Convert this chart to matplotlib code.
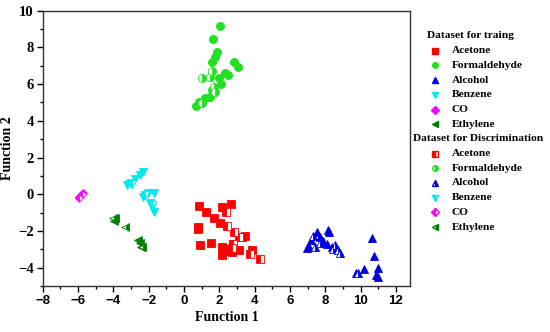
import matplotlib
matplotlib.use("Agg")
import matplotlib.pyplot as plt
from matplotlib.lines import Line2D

# ---- data: training set (filled) ----
acetone_x = [0.86, 1.24, 2.16, 2.67, 1.68, 2.03, 0.77, 0.77, 3.47, 3.26, 0.90, 1.51, 2.16, 2.56, 2.70, 3.13, 3.83, 2.13, 2.47]
acetone_y = [-0.63, -0.99, -0.72, -0.53, -1.31, -1.55, -1.80, -1.92, -2.26, -2.32, -2.77, -2.64, -2.86, -3.00, -3.17, -3.04, -3.04, -3.31, -3.10]
formal_x = [2.03, 1.66, 1.85, 1.75, 1.56, 2.83, 3.07, 2.32, 2.50, 1.98, 2.07, 1.56, 1.47, 1.19, 0.85, 0.66]
formal_y = [9.17, 8.46, 7.73, 7.49, 7.22, 7.22, 6.95, 6.62, 6.50, 6.35, 5.99, 5.68, 5.31, 5.22, 5.04, 4.81]
alcohol_x = [7.51, 8.17, 8.20, 7.69, 7.88, 8.11, 7.22, 7.09, 6.94, 8.36, 10.62, 10.77, 10.96, 10.90, 10.99, 10.18, 9.77]
alcohol_y = [-2.04, -1.95, -2.05, -2.32, -2.53, -2.71, -2.50, -2.86, -2.95, -2.86, -2.40, -3.37, -4.04, -4.40, -4.53, -4.09, -4.28]
benzene_x = [-3.20, -3.06, -2.78, -2.49, -2.34, -2.30, -2.02, -1.70, -1.93, -1.80, -1.70]
benzene_y = [0.50, 0.59, 0.81, 1.05, 1.19, -0.14, 0.08, 0.08, -0.50, -0.70, -0.95]
co_x = [-5.93, -5.85, -5.74]
co_y = [-0.14, -0.05, 0.08]
ethylene_x = [-3.91, -3.96, -2.59, -2.49, -2.43]
ethylene_y = [-1.31, -1.46, -2.50, -2.68, -2.86]

# ---- data: discrimination set (half filled) ----
acetone_dx = [2.37, 2.41, 2.83, 3.13, 2.79, 2.70, 3.73, 4.30]
acetone_dy = [-0.95, -1.73, -2.04, -2.35, -2.73, -2.91, -3.28, -3.55]
formal_dx = [1.00, 1.47, 1.56, 1.71, 1.75, 1.00]
formal_dy = [6.35, 6.40, 6.73, 5.86, 5.59, 4.95]
alcohol_dx = [7.41, 7.69, 8.54, 8.73, 8.83, 8.45, 9.87, 7.32]
alcohol_dy = [-2.86, -2.64, -2.77, -3.04, -3.22, -3.00, -4.28, -2.30]
benzene_dx = [-2.95, -2.21, -1.82]
benzene_dy = [0.55, -0.02, -0.60]
co_dx = [-5.80, -5.95]
co_dy = [0.02, -0.18]
ethylene_dx = [-4.02, -3.35, -2.40]
ethylene_dy = [-1.30, -1.80, -2.85]

names = ["Acetone", "Formaldehyde", "Alcohol", "Benzene", "CO", "Ethylene"]
colors = ["#ff0000", "#22e022", "#0000e0", "#00e8f0", "#ff00ff", "#008000"]
markers = ["s", "o", "^", "v", "D", "<"]
sizes = [5.2, 5.8, 5.8, 5.8, 4.2, 5.8]
halves = ["left", "right", "right", "left", "left", "right"]

train = [(acetone_x, acetone_y), (formal_x, formal_y), (alcohol_x, alcohol_y),
         (benzene_x, benzene_y), (co_x, co_y), (ethylene_x, ethylene_y)]
disc = [(acetone_dx, acetone_dy), (formal_dx, formal_dy), (alcohol_dx, alcohol_dy),
        (benzene_dx, benzene_dy), (co_dx, co_dy), (ethylene_dx, ethylene_dy)]

fig = plt.figure(figsize=(5.5, 3.32), dpi=100)
W, H = 550, 332
ax = fig.add_axes([42.7 / W, 1 - 286 / H, (410 - 42.7) / W, (286 - 10.7) / H])

for (x, y), c, m, s in zip(train, colors, markers, sizes):
    ax.plot(x, y, linestyle="none", marker=m, color=c, markersize=s, markeredgewidth=0.6)
for (x, y), c, m, s, h in zip(disc, colors, markers, sizes, halves):
    ax.plot(x, y, linestyle="none", marker=m, color=c, markersize=s, markeredgewidth=0.6,
            fillstyle=h, markerfacecoloralt="white", markeredgecolor=c)

ax.set_xlim(-8, 12.8)
ax.set_ylim(-5, 10)
ax.set_xticks(range(-8, 13, 2))
ax.set_xticks(range(-7, 13, 2), minor=True)
ax.set_yticks(range(-4, 11, 2))
ax.set_yticks(range(-5, 10, 2), minor=True)
ax.tick_params(which="major", direction="out", length=4, width=1, pad=2.5)
ax.tick_params(which="minor", direction="out", length=2.5, width=1)
for sp in ax.spines.values():
    sp.set_linewidth(1.0)
    sp.set_color("#333333")

for lab in ax.get_xticklabels():
    lab.set_fontfamily("Liberation Sans")
    lab.set_fontweight("bold")
    lab.set_fontsize(9.5)
for lab in ax.get_yticklabels():
    lab.set_fontfamily("Liberation Serif")
    lab.set_fontweight("bold")
    lab.set_fontsize(10.5)

ax.set_xlabel("Function 1", fontfamily="Liberation Serif", fontweight="bold", fontsize=10, labelpad=3)
ax.set_ylabel("Function 2", fontfamily="Liberation Serif", fontweight="bold", fontsize=10, labelpad=3)

# ---- legend drawn manually at the right ----
def fx(px):
    return px / W

def fy(py):
    return 1 - py / H

fs = 8.2
fig.text(fx(427), fy(36), "Dataset for traing", fontfamily="Liberation Serif",
         fontweight="bold", fontsize=fs, va="center", ha="left")
row = 14.7
for i, (n, c, m) in enumerate(zip(names, colors, markers)):
    yy = 36 + row * (i + 1)
    fig.add_artist(Line2D([fx(435)], [fy(yy)], marker=m, color=c, markersize=4,
                          linestyle="none", transform=fig.transFigure))
    fig.text(fx(452), fy(yy), n, fontfamily="Liberation Serif", fontweight="bold",
             fontsize=fs, va="center", ha="left")
y0 = 36 + row * 7
fig.text(fx(413), fy(y0), "Dataset for Discrimination", fontfamily="Liberation Serif",
         fontweight="bold", fontsize=fs, va="center", ha="left")
for i, (n, c, m, h) in enumerate(zip(names, colors, markers, halves)):
    yy = y0 + row * (i + 1)
    fig.add_artist(Line2D([fx(435)], [fy(yy)], marker=m, color=c, markersize=4,
                          linestyle="none", fillstyle=h, markerfacecoloralt="white",
                          markeredgecolor=c, transform=fig.transFigure))
    fig.text(fx(452), fy(yy), n, fontfamily="Liberation Serif", fontweight="bold",
             fontsize=fs, va="center", ha="left")

fig.savefig("out.png", dpi=100)
